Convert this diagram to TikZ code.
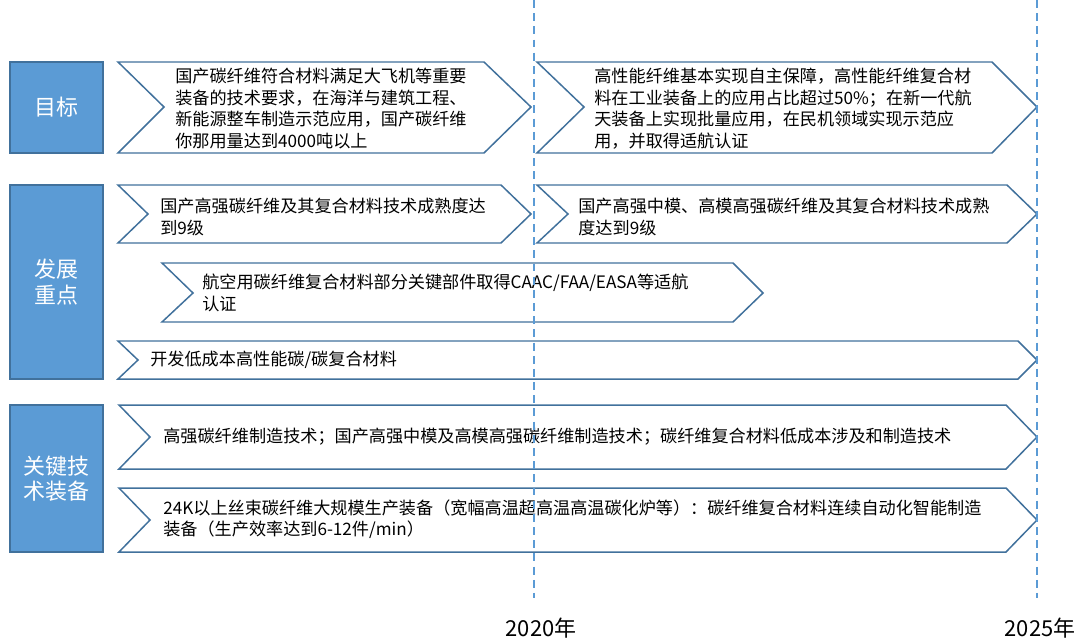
\documentclass[tikz,border=0pt]{standalone}
\usepackage{fontspec}
\setmainfont{Noto Sans CJK SC}
\usepackage{tikz}

\definecolor{boxblue}{RGB}{91,155,213}
\definecolor{edgeblue}{RGB}{65,113,156}
\definecolor{guideblue}{RGB}{91,155,213}

\begin{document}
\begin{tikzpicture}[x=0.02cm,y=-0.02cm]
            \tikzstyle{every node}+=[inner sep=0pt]
            \tikzstyle{chev}=[draw=edgeblue,fill=white,line width=0.85pt]
            \tikzstyle{catbox}=[draw=edgeblue,fill=boxblue,line width=0.85pt]
            \tikzstyle{cattext}=[text=white,align=center,font=\fontsize{12.5}{14.5}\selectfont]
            \tikzstyle{body}=[anchor=west,align=left,font=\fontsize{9.75}{12.3}\selectfont]
            \tikzstyle{guide}=[guideblue,line width=0.85pt,dash pattern=on 4.5pt off 3pt]
            \useasboundingbox (0,0) rectangle (1078,642);
            % categories
            \draw [catbox] (10,62) rectangle (103,153);
            \node [cattext] (goal) at (56.5,107.5) {目标};
            \draw [catbox] (10,185) rectangle (103,379);
            \node [cattext] (focus) at (56.5,282) {发展\\重点};
            \draw [catbox] (10,405) rectangle (103,552);
            \node [cattext] (tech) at (56.5,478.5) {关键技\\术装备};
            % row 1
            \draw [chev] (118,62) -- (484,62) -- (531,107) -- (484,153) -- (118,153) -- (164,107) -- cycle;
            \node [body] (goalA) at (175,108.5) {国产碳纤维符合材料满足大飞机等重要\\装备的技术要求，在海洋与建筑工程、\\新能源整车制造示范应用，国产碳纤维\\你那用量达到4000吨以上};
            \draw [chev] (537,62) -- (992,62) -- (1037,107) -- (992,153) -- (537,153) -- (584,107) -- cycle;
            \node [body] (goalB) at (594,108.5) {高性能纤维基本实现自主保障，高性能纤维复合材\\料在工业装备上的应用占比超过50\%；在新一代航\\天装备上实现批量应用，在民机领域实现示范应\\用，并取得适航认证};
            % row 2
            \draw [chev] (118,185) -- (501,185) -- (531,214) -- (501,243) -- (118,243) -- (148,214) -- cycle;
            \node [body] (keyA) at (160,217) {国产高强碳纤维及其复合材料技术成熟度达\\到9级};
            \draw [chev] (537,185) -- (1007,185) -- (1037,214) -- (1007,243) -- (537,243) -- (568,214) -- cycle;
            \node [body] (keyB) at (578,217) {国产高强中模、高模高强碳纤维及其复合材料技术成熟\\度达到9级};
            % row 3
            \draw [chev] (162,263) -- (733,263) -- (763,293) -- (733,322) -- (162,322) -- (193,293) -- cycle;
            \node [body] (keyC) at (202,293) {航空用碳纤维复合材料部分关键部件取得CAAC/FAA/EASA等适航\\认证};
            % row 4
            \draw [chev] (118,341) -- (1018,341) -- (1037,360) -- (1018,379) -- (118,379) -- (138,360) -- cycle;
            \node [body] (keyD) at (150,360) {开发低成本高性能碳/碳复合材料};
            % rows 5 and 6
            \draw [chev] (119,405) -- (1006,405) -- (1037,437) -- (1006,469) -- (119,469) -- (150,437) -- cycle;
            \node [body] (techA) at (163,437) {高强碳纤维制造技术；国产高强中模及高模高强碳纤维制造技术；碳纤维复合材料低成本涉及和制造技术};
            \draw [chev] (119,488) -- (1006,488) -- (1037,520) -- (1006,552) -- (119,552) -- (150,520) -- cycle;
            \node [body] (techB) at (163,519) {24K以上丝束碳纤维大规模生产装备（宽幅高温超高温高温碳化炉等）：碳纤维复合材料连续自动化智能制造\\装备（生产效率达到6-12件/min）};
            % time marks
            \draw [guide] (534,0) -- (534,598);
            \draw [guide] (1037,0) -- (1037,598);
            \node [font=\fontsize{12.5}{14}\selectfont] (y2020) at (541,628) {2020年};
            \node [font=\fontsize{12.5}{14}\selectfont] (y2025) at (1040,628) {2025年};
        \end{tikzpicture}
\end{document}
